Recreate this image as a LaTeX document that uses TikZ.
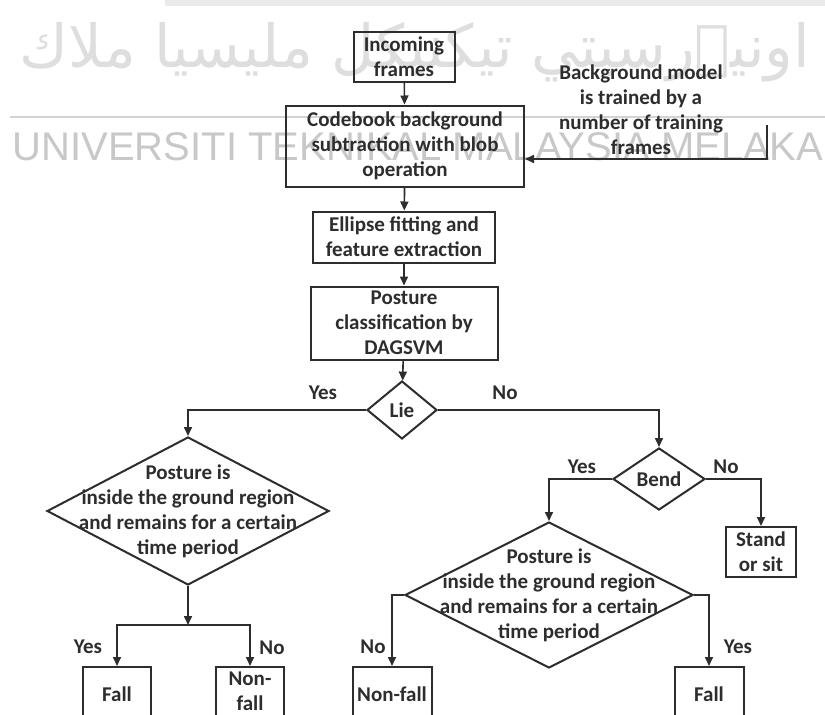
\documentclass[tikz,border=0pt]{standalone}
\usepackage{fontspec}
\usepackage{graphicx}
\setmainfont{Carlito}
\newfontfamily\wmfont{Liberation Sans}
\newfontfamily\arabicfont[Script=Arabic]{DejaVu Sans}
\TeXXeTstate=1
\usetikzlibrary{shapes.geometric, arrows.meta, positioning}
\definecolor{flowline}{RGB}{45,45,45}
\definecolor{wmgray}{RGB}{200,200,200}

\begin{document}
\begin{tikzpicture}[x=1pt, y=-1pt, every node/.style={font=\fontsize{21}{25}\selectfont\bfseries, text=flowline}]
  \tikzset{procbox/.style={rectangle, draw=flowline, line width=2pt, align=center, inner sep=0pt},
           decide/.style={diamond, draw=flowline, line width=2pt, inner sep=0pt},
           flowarrow/.style={draw=flowline, line width=1.6pt, -{Triangle[length=9pt,width=8pt]}},
           qtext/.style={align=center},
           wmark/.style={text=wmgray, inner sep=0pt}}
  \useasboundingbox[fill=white] (0,0) rectangle (825,715);

  \fill[wmgray!40] (165,0) rectangle (825,6);
  \node[wmark, text=wmgray!60, font=\arabicfont\fontsize{56}{56}\selectfont] (wmjawi) at (415,52) {\resizebox{790pt}{!}{\beginR اونيۏرسيتي تيكنيكل مليسيا ملاك\endR}};
  \draw[wmgray!80, line width=2pt] (10,117) -- (825,117);
  \node[wmark, font=\wmfont\fontsize{40}{40}\selectfont] (wmlatin) at (418,147) {UNIVERSITI TEKNIKAL MALAYSIA MELAKA};

  \node[procbox, minimum width=101pt, minimum height=50pt] (inc) at (404,57) {Incoming\\frames};
  \node[procbox, minimum width=238pt, minimum height=81pt] (cb) at (405,146) {Codebook background\\subtraction with blob\\operation};
  \node[procbox, minimum width=182pt, minimum height=51pt] (ell) at (404,237) {Ellipse fitting and\\feature extraction};
  \node[procbox, minimum width=187pt, minimum height=73pt] (pc) at (404,323) {Posture\\classification by\\DAGSVM};
  \node[align=center] (bgnote) at (641,110) {Background model\\is trained by a\\number of training\\frames};
  \coordinate (bgin) at (767,125);
  \coordinate (bgturn) at (767,159);

  \node[decide, minimum width=70pt, minimum height=58pt] (lie) at (402,410) {};
  \node (lietxt) at (402,410) {Lie};
  \node[decide, minimum width=282pt, minimum height=148pt,
        label={[qtext]center:{Posture is\\inside the ground region\\and remains for a certain\\time period}}] (dl) at (188,511) {};
  \node[decide, minimum width=92pt, minimum height=62pt] (bend) at (659,479) {};
  \node (bendtxt) at (659,479) {Bend};
  \node[decide, minimum width=288pt, minimum height=146pt,
        label={[qtext]center:{Posture is\\inside the ground region\\and remains for a certain\\time period}}] (dr) at (549,595) {};
  \node[procbox, minimum width=70pt, minimum height=50pt] (stand) at (761,552) {Stand\\or sit};

  \coordinate (splitl) at (188,625);
  \node[procbox, minimum width=68pt, minimum height=54pt] (falll) at (117,694) {Fall};
  \node[procbox, minimum width=68pt, minimum height=54pt,
        label={[qtext, yshift=3pt]center:{Non-\\fall}}] (nfl) at (250,694) {};
  \node[procbox, minimum width=79pt, minimum height=54pt] (nfr) at (392,694) {Non-fall};
  \node[procbox, minimum width=69pt, minimum height=54pt] (fallr) at (709,694) {Fall};

  \foreach \a/\b in {inc/cb, cb/ell, ell/pc, pc/lie, dl/splitl}
    \draw[flowarrow] (\a) -- (\b);
  \draw[flowarrow] (bgin) -- (bgturn) -- (bgturn -| cb.east);
  \draw[flowarrow] (lie.west) -| (dl.north);
  \draw[flowarrow] (lie.east) -| (bend.north);
  \draw[flowarrow] (bend.west) -| (dr.north);
  \draw[flowarrow] (bend.east) -| (stand.north);
  \draw[flowarrow] (splitl) -| (falll.north);
  \draw[flowarrow] (splitl) -| (nfl.north);
  \draw[flowarrow] (dr.west) -| (nfr.north);
  \draw[flowarrow] (dr.east) -| (fallr.north);

  \node (yes1) at (323,393) {Yes};
  \node (no1) at (505,393) {No};
  \node (yes2) at (582,467) {Yes};
  \node (no2) at (726,467) {No};
  \node (yes3) at (88,647) {Yes};
  \node (no3) at (272,648) {No};
  \node (no4) at (373,647) {No};
  \node (yes4) at (738,647) {Yes};
\end{tikzpicture}
\end{document}
